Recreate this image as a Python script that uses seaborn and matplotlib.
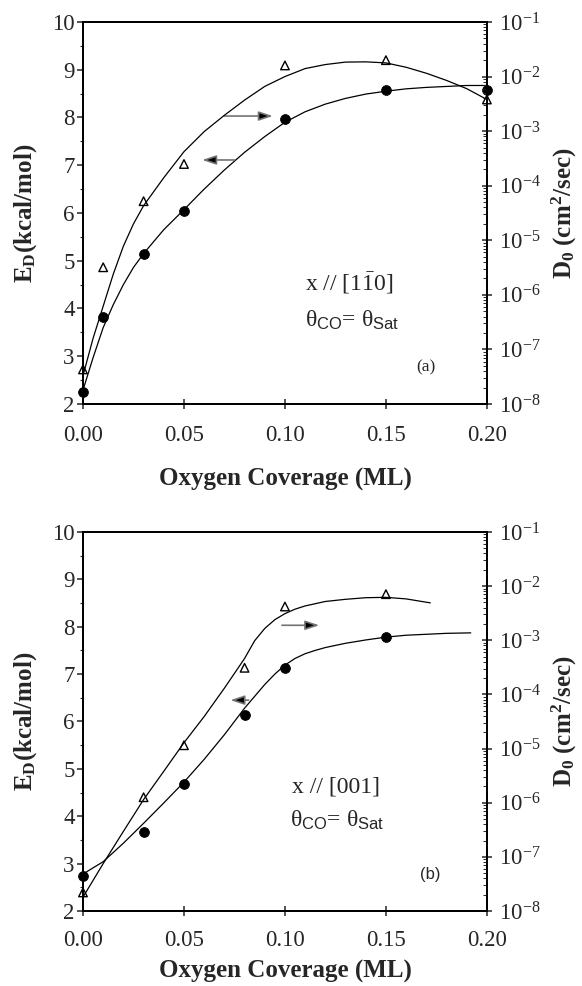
import numpy as np
import pandas as pd
import seaborn as sns
import matplotlib.pyplot as plt
from matplotlib.ticker import MultipleLocator, StrMethodFormatter, LogLocator, NullFormatter

sns.set_style("ticks")
plt.rcParams['font.family'] = ['Liberation Serif', 'DejaVu Serif']
plt.rcParams['mathtext.fontset'] = 'custom'
plt.rcParams['mathtext.rm'] = 'Liberation Serif'
plt.rcParams['mathtext.it'] = 'Liberation Serif:italic'
plt.rcParams['mathtext.bf'] = 'Liberation Serif:bold'
plt.rcParams['mathtext.sf'] = 'Liberation Sans'
plt.rcParams['axes.unicode_minus'] = False

# ---- panel (a): x // [1-10] ----
cov_a = [0.00, 0.01, 0.03, 0.05, 0.10, 0.15, 0.20]
ed_a = [2.25, 3.82, 5.15, 6.05, 7.97, 8.57, 8.58]            # E_D, kcal/mol (filled circles)
d0_a = [4.3e-8, 3.2e-6, 5.2e-5, 2.5e-4, 1.6e-2, 2.0e-2, 3.8e-3]  # D_0, cm2/s (open triangles)

# fitted curves
fit_cov_a = [0.000, 0.005, 0.010, 0.015, 0.020, 0.025, 0.030, 0.040, 0.050, 0.060, 0.070,
             0.080, 0.090, 0.100, 0.110, 0.120, 0.130, 0.140, 0.150, 0.160, 0.170, 0.180,
             0.190, 0.200]
fit_ed_a = [2.29, 2.97, 3.60, 4.08, 4.50, 4.86, 5.15, 5.65, 6.07, 6.50, 6.90,
            7.27, 7.60, 7.90, 8.12, 8.28, 8.40, 8.49, 8.55, 8.60, 8.63, 8.65,
            8.67, 8.67]
fit_d0_a = [3.3e-8, 1.6e-7, 6.2e-7, 2.4e-6, 7.8e-6, 2.0e-5, 4.3e-5, 1.4e-4, 4.2e-4, 9.8e-4, 1.95e-3,
            3.7e-3, 6.6e-3, 1.0e-2, 1.4e-2, 1.66e-2, 1.84e-2, 1.86e-2, 1.78e-2, 1.48e-2, 1.15e-2,
            8.5e-3, 6.0e-3, 3.8e-3]

# ---- panel (b): x // [001] ----
cov_b = [0.00, 0.03, 0.05, 0.08, 0.10, 0.15]
ed_b = [2.74, 3.67, 4.68, 6.13, 7.13, 7.78]
d0_b = [2.2e-8, 1.26e-6, 1.15e-5, 3.1e-4, 4.2e-3, 7.1e-3]

fit_cov_b_ed = [0.000, 0.010, 0.020, 0.030, 0.040, 0.050, 0.060, 0.070, 0.080, 0.090, 0.095,
                0.100, 0.105, 0.110, 0.115, 0.120, 0.130, 0.140, 0.150, 0.160, 0.170, 0.180,
                0.192]
fit_ed_b = [2.78, 3.04, 3.43, 3.85, 4.28, 4.72, 5.20, 5.72, 6.28, 6.78, 7.00,
            7.19, 7.33, 7.43, 7.50, 7.56, 7.65, 7.72, 7.78, 7.82, 7.84, 7.86,
            7.87]
fit_cov_b_d0 = [0.000, 0.010, 0.020, 0.030, 0.040, 0.050, 0.060, 0.070, 0.080, 0.085,
                0.090, 0.095, 0.100, 0.105, 0.110, 0.120, 0.130, 0.140, 0.150, 0.160, 0.172]
fit_d0_b = [1.8e-8, 7.5e-8, 2.95e-7, 1.14e-6, 3.8e-6, 1.28e-5, 3.9e-5, 1.3e-4, 4.6e-4, 9.8e-4,
            1.65e-3, 2.4e-3, 3.1e-3, 3.75e-3, 4.3e-3, 5.2e-3, 5.7e-3, 6.1e-3, 6.2e-3, 5.8e-3,
            4.9e-3]

x_ticks = [0.00, 0.05, 0.10, 0.15, 0.20]
TICK_FS = 16.5
LABEL_FS = 18


def arrow(ax, start, end):
    ax.annotate('', xy=end, xytext=start,
                arrowprops=dict(arrowstyle='-|>,head_length=0.6,head_width=0.2',
                                mutation_scale=14, lw=1.2, ec='0.45', fc='black',
                                shrinkA=0, shrinkB=0))


def draw_panel(ax, cov, ed, d0, fx_ed, fy_ed, fx_d0, fy_d0, label_y, xpad):
    ax2 = ax.twinx()
    sns.lineplot(x=fx_ed, y=fy_ed, ax=ax, color='black', lw=0.9, sort=False)
    sns.lineplot(x=fx_d0, y=fy_d0, ax=ax2, color='black', lw=0.9, sort=False)
    sns.scatterplot(x=cov, y=ed, ax=ax, marker='o', s=50, color='black',
                    edgecolor='black', zorder=4, clip_on=False)
    sns.scatterplot(x=cov, y=d0, ax=ax2, marker='^', s=38, facecolor='none',
                    edgecolor='black', linewidth=1.0, zorder=4, clip_on=False)

    ax.set_xlim(0, 0.2)
    ax.set_ylim(2, 10)
    ax2.set_yscale('log')
    ax2.set_ylim(1e-8, 1e-1)

    ax.set_xticks(x_ticks)
    ax.xaxis.set_major_formatter(StrMethodFormatter('{x:.2f}'))
    ax.yaxis.set_major_locator(MultipleLocator(1))
    ax.yaxis.set_minor_locator(MultipleLocator(0.5))
    ax2.yaxis.set_major_locator(LogLocator(base=10, numticks=12))
    ax2.yaxis.set_minor_locator(LogLocator(base=10, subs=range(2, 10), numticks=12))
    ax2.yaxis.set_minor_formatter(NullFormatter())

    ax.tick_params(axis='x', direction='inout', length=7, width=1.1, labelsize=TICK_FS, pad=xpad)
    ax.tick_params(axis='y', which='major', direction='out', length=4, width=1.1,
                   labelsize=TICK_FS, pad=2)
    ax.tick_params(axis='y', which='minor', direction='out', length=2, width=0.8)
    ax2.tick_params(axis='y', which='major', direction='inout', length=7, width=1.1,
                    labelsize=TICK_FS, pad=5)
    ax2.tick_params(axis='y', which='minor', direction='in', length=3, width=0.7)

    for a in (ax, ax2):
        for sp in a.spines.values():
            sp.set_linewidth(1.4)
            sp.set_color('black')

    ax.set_xlabel('Oxygen Coverage (ML)', fontsize=LABEL_FS, fontweight='bold', va='top')
    ax.xaxis.set_label_coords(0.5, label_y)
    ax.set_ylabel(r'$\mathbf{E_D(kcal/mol)}$', fontsize=LABEL_FS)
    ax.yaxis.set_label_coords(-0.11, 0.5)
    ax2.set_ylabel(r'$\mathbf{D_0\ (cm^{2}/sec)}$', fontsize=LABEL_FS)
    ax2.yaxis.set_label_coords(1.155, 0.5)
    return ax2


fig = plt.figure(figsize=(5.82, 9.86), dpi=100)
ax_a = fig.add_axes([0.1426, 0.5903, 0.694, 0.3874])
ax_b = fig.add_axes([0.1426, 0.0761, 0.694, 0.3844])

draw_panel(ax_a, cov_a, ed_a, d0_a, fit_cov_a, fit_ed_a, fit_cov_a, fit_d0_a, -0.168, 12)
arrow(ax_a, (0.070, 8.03), (0.094, 8.03))
arrow(ax_a, (0.075, 7.11), (0.059, 7.11))
ax_a.text(0.110, 4.53, r'x // [1$\bar{1}$0]', fontsize=TICK_FS + 0.5, va='center')
ax_a.text(0.110, 3.76, r'$\mathrm{\theta}_{\mathsf{CO}}$= $\mathrm{\theta}_{\mathsf{Sat}}$',
          fontsize=TICK_FS + 0.5, va='center')
ax_a.text(0.170, 2.77, '(a)', fontsize=12.5, ha='center', va='center')

draw_panel(ax_b, cov_b, ed_b, d0_b, fit_cov_b_ed, fit_ed_b, fit_cov_b_d0, fit_d0_b, -0.128, 10)
arrow(ax_b, (0.0985, 8.03), (0.117, 8.03))
arrow(ax_b, (0.082, 6.45), (0.073, 6.45))
ax_b.text(0.1035, 4.62, 'x // [001]', fontsize=TICK_FS + 0.5, va='center')
ax_b.text(0.1025, 3.92, r'$\mathrm{\theta}_{\mathsf{CO}}$= $\mathrm{\theta}_{\mathsf{Sat}}$',
          fontsize=TICK_FS + 0.5, va='center')
ax_b.text(0.172, 2.76, '(b)', fontsize=12, ha='center', va='center',
          family=['Liberation Sans', 'DejaVu Sans'])

fig.savefig('out.png', dpi=100)
